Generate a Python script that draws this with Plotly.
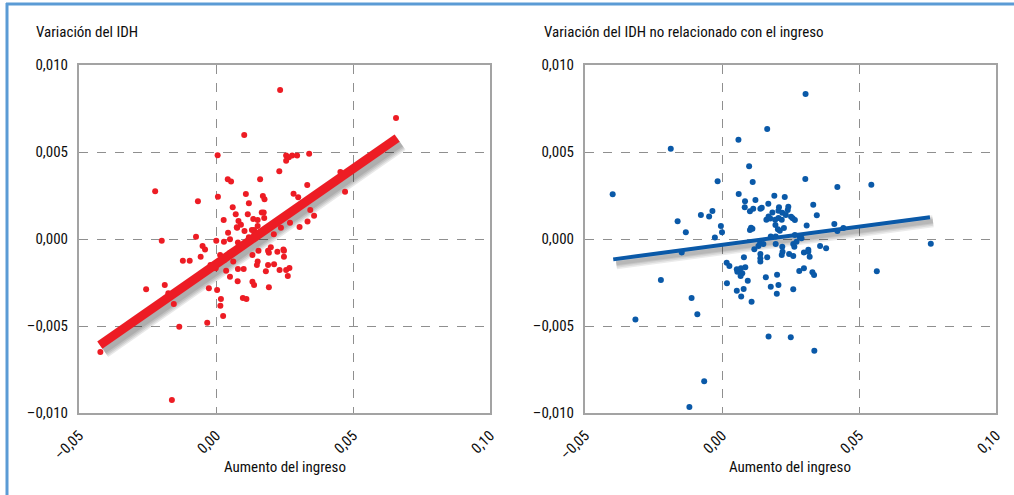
import plotly.graph_objects as go

# ---------------- data ----------------
left_income = [0.0234, 0.0657, 0.0103, 0.0006, 0.0231, 0.0256, 0.0266, 0.0278, 0.0296, 0.034, 0.0256,
               0.0454, 0.0471, -0.0222, -0.0066, 0.0043, 0.0055, 0.0161, 0.0007, 0.0109,
               0.0171, 0.0177, 0.012, 0.0333, 0.0283, 0.0061, 0.0072, 0.0116, 0.0167, 0.0174,
               0.0344, 0.0358, 0.0028, 0.0082, 0.0136, 0.0152, 0.0176, 0.027, 0.0334, 0.0305, 0.0077,
               0.0044, 0.0104, 0.0139, 0.0237, 0.0211, -0.0073, -0.0198, 0.0001, 0.0029, 0.0051,
               -0.0049, 0.0246, -0.004, -0.0056, -0.0121, -0.0096, 0.0015, 0.0051, 0.0063, -0.0001,
               0.0037, 0.0051, 0.008, 0.0101, 0.0079, 0.0133, 0.0155, 0.0152, 0.0149, 0.019, 0.02,
               0.0193, 0.0224, 0.0248, 0.0248, 0.019, 0.0212, 0.0182, 0.0232, 0.0256, 0.0268, 0.0262,
               0.0133, 0.0139, 0.0193, -0.0026, 0.0004, -0.0187, -0.0255, -0.0174, -0.0154,
               0.0018, 0.0016, 0.0098, 0.0111, 0.0026, -0.0032, -0.0134, -0.0422, -0.0161,
               0.0091, 0.0076, 0.0131, 0.0152, 0.008, 0.012, 0.014, 0.016, 0.018, 0.0105, 0.003,
               -0.002, 0.0205, 0.0310, 0.0300]
left_hdi = [0.00856, 0.00695, 0.00598, 0.00481, 0.0039, 0.0048, 0.0047, 0.0048, 0.0048, 0.0049, 0.0045,
            0.00385, 0.00272, 0.00274, 0.00217, 0.00343, 0.0033, 0.00343, 0.00243, 0.00259,
            0.00247, 0.00228, 0.00205, 0.0031, 0.0026, 0.00182, 0.00142, 0.00142, 0.00153, 0.00153,
            0.00167, 0.00134, 0.00109, 0.00103, 0.00115, 0.00109, 0.0012, 0.00094, 0.001, 0.00069, 0.00065,
            0.00036, 0.00046, 0.00052, 0.00065, 0.00027, 0.00013, -0.0001, -0.0001, -0.00016, -0.00002,
            -0.0004, -0.0006, -0.0006, -0.00102, -0.00125, -0.00125, -0.00092, -0.00079, -0.0013, -0.00168,
            -0.00182, -0.00217, -0.00172, -0.00172, -0.00243, -0.00092, -0.00067, -0.0013, -0.0015, -0.00067, -0.00048,
            -0.00079, -0.00073, -0.00067, -0.00102, -0.0015, -0.00145, -0.00186, -0.00178, -0.00178, -0.00167, -0.00213,
            -0.00245, -0.00264, -0.00278, -0.00283, -0.00293, -0.00264, -0.00289, -0.00312, -0.00374,
            -0.00345, -0.00383, -0.00339, -0.00345, -0.00443, -0.00481, -0.00504, -0.0065, -0.00925,
            0.00082, 0.00067, 0.00052, 0.00075, -0.0002, 0.0001, 0.0003, 0.0004, 0.0006, -0.0003, -0.0012,
            -0.0015, 0.0008, 0.0020, 0.0024]

right_income = [0.0305, 0.0165, 0.006, -0.0187, 0.0099, 0.0112, -0.0016, 0.0304, 0.0421, 0.0545, -0.0399, 0.0061,
                0.0191, 0.0229, 0.0084, 0.0122, 0.0169, 0.0333, 0.0083, 0.0102, 0.0114, 0.014, 0.0145,
                0.0208, 0.0242, 0.024, 0.0184, 0.0206, 0.022, 0.0233, 0.0252, 0.0346, -0.0077, -0.0047,
                -0.0035, -0.0162, -0.0132, -0.0026, -0.0004, 0.0, 0.0162, 0.017, 0.0176, 0.0194, 0.0206,
                0.0218, 0.0258, 0.0266, 0.0195, 0.0204, 0.0211, 0.0226, 0.0106, 0.0111, 0.0102, 0.0309,
                0.041, 0.0421, 0.0443, 0.0266, 0.0284, 0.029, 0.0178, 0.0196, 0.0762, 0.0358, 0.038, 0.0315,
                -0.0147, 0.0118, 0.0133, 0.0139, 0.0151, 0.0196, 0.022, 0.0221, 0.0218, 0.0245, 0.026,
                0.026, 0.0272, 0.0264, 0.008, 0.014, 0.014, 0.014, 0.0165, 0.0299, 0.0315, 0.032,
                0.0017, 0.0027, 0.0054, 0.0056, 0.0069, 0.0074, 0.0068, 0.0085, 0.0094, 0.0018, 0.016,
                0.0201, 0.0206, 0.0178, 0.0282, 0.0299, 0.033, 0.0336, 0.026, 0.0054, 0.0079, 0.007,
                0.0108, 0.02, 0.0565, -0.0223, -0.0111, -0.009, -0.0316, 0.017, 0.0251, 0.0337,
                -0.0065, -0.0119]
right_hdi = [0.00833, 0.00632, 0.00571, 0.00519, 0.00418, 0.00328, 0.00332, 0.00345, 0.00299, 0.00312, 0.00257, 0.00259,
             0.00249, 0.00241, 0.00217, 0.00224, 0.00203, 0.00197, 0.00182, 0.00159, 0.00174, 0.00174, 0.0018,
             0.00182, 0.00186, 0.00167, 0.00153, 0.00163, 0.00151, 0.00138, 0.00128, 0.00136, 0.00138, 0.0013,
             0.00161, 0.00102, 0.00039, 0.00008, 0.00075, 0.00039, 0.0011, 0.0013, 0.00118, 0.0011, 0.0012,
             0.0011, 0.00119, 0.00109, 0.0008, 0.00056, 0.00048, 0.00063, 0.00065, 0.00059, 0.00052, 0.00077,
             0.00086, 0.00046, 0.00063, 0.00023, 0.0001, 0.00004, 0.00014, 0.00014, -0.00027, -0.0004, -0.00053, -0.00062,
             -0.00077, -0.00059, -0.0004, -0.00025, -0.00029, -0.00029, -0.00044, -0.00073, -0.00092, -0.00086, -0.00098,
             -0.00029, -0.00016, -0.00044, -0.00105, -0.00086, -0.00111, -0.0013, -0.00105, -0.00077, -0.00073, -0.00102,
             -0.00136, -0.00155, -0.00174, -0.00188, -0.00168, -0.00197, -0.00213, -0.00163, -0.0024, -0.00255, -0.0022,
             -0.00205, -0.00264, -0.00274, -0.00184, -0.00168, -0.00191, -0.00207, -0.00289, -0.00297, -0.00287, -0.0033,
             -0.0036, -0.00314, -0.00186, -0.00236, -0.00339, -0.00433, -0.00462, -0.0056, -0.00565, -0.00642,
             -0.00818, -0.00966]

left_trend_x = [-0.0424, 0.0661]
left_trend_y = [-0.0061, 0.0058]
right_trend_x = [-0.0397, 0.0759]
right_trend_y = [-0.00117, 0.00125]

x_tickvals = [-0.05, 0.0, 0.05, 0.10]
x_ticktext = ["–0,05", "0,00", "0,05", "0,10"]
y_tickvals = [-0.010, -0.005, 0.0, 0.005, 0.010]
y_ticktext = ["–0,010", "–0,005", "0,000", "0,005", "0,010"]

left_title = "Variación del IDH"
right_title = "Variación del IDH no relacionado con el ingreso"
x_title = "Aumento del ingreso"

# ---------------- style ----------------
W, H = 1014, 495
RED = "#ED1C24"
BLUE = "#0A59A8"
FONT = "Liberation Sans Narrow, Roboto Condensed, Arial Narrow, sans-serif"
TXT = "#0d0d0d"
XR = [-0.05, 0.10]
YR = [-0.010, 0.010]

def px_x(p):
    return p / W

def px_y(p):
    return 1 - p / H

dom_left = [px_x(79), px_x(490)]
dom_right = [px_x(585), px_x(996)]
dom_y = [px_y(413), px_y(65)]

# shadow shift: 3px right, 4px down
sx = 3 * (XR[1] - XR[0]) / 411
sy = 4 * (YR[1] - YR[0]) / 348
XR_sh = [XR[0] - sx, XR[1] - sx]
YR_sh = [YR[0] + sy, YR[1] + sy]

fig = go.Figure()

# base subplots (frame + grid) need a trace to exist: invisible copies of the trend lines
fig.add_trace(go.Scatter(x=left_trend_x, y=left_trend_y, mode="lines", opacity=0,
                         line=dict(width=0), xaxis="x", yaxis="y", hoverinfo="skip"))
fig.add_trace(go.Scatter(x=right_trend_x, y=right_trend_y, mode="lines", opacity=0,
                         line=dict(width=0), xaxis="x2", yaxis="y2", hoverinfo="skip"))

# shadows (overlay, shifted)
for w in (19, 16, 13, 10):
    fig.add_trace(go.Scatter(x=left_trend_x, y=left_trend_y, mode="lines",
                             line=dict(color="rgba(0,0,0,0.09)", width=w),
                             xaxis="x3", yaxis="y3", hoverinfo="skip"))
for w in (12, 9, 6, 4):
    fig.add_trace(go.Scatter(x=right_trend_x, y=right_trend_y, mode="lines",
                             line=dict(color="rgba(0,0,0,0.08)", width=w),
                             xaxis="x4", yaxis="y4", hoverinfo="skip"))

# points
fig.add_trace(go.Scatter(x=left_income, y=left_hdi, mode="markers",
                         marker=dict(color=RED, size=6, line=dict(width=0)),
                         xaxis="x5", yaxis="y5", hoverinfo="skip"))
fig.add_trace(go.Scatter(x=right_income, y=right_hdi, mode="markers",
                         marker=dict(color=BLUE, size=6, line=dict(width=0)),
                         xaxis="x6", yaxis="y6", hoverinfo="skip"))

# trend lines
fig.add_trace(go.Scatter(x=left_trend_x, y=left_trend_y, mode="lines",
                         line=dict(color=RED, width=9),
                         xaxis="x7", yaxis="y7", hoverinfo="skip"))
fig.add_trace(go.Scatter(x=right_trend_x, y=right_trend_y, mode="lines",
                         line=dict(color=BLUE, width=4),
                         xaxis="x8", yaxis="y8", hoverinfo="skip"))

axis_common = dict(showline=True, mirror=True, linecolor="#a3a3a3", linewidth=2,
                   showgrid=True, gridcolor="#8f8f8f", griddash="dash", gridwidth=1,
                   zeroline=False, ticks="", fixedrange=True, automargin=False,
                   tickfont=dict(family=FONT, size=15, color=TXT))

xcommon = dict(axis_common, range=XR, tickvals=x_tickvals, ticktext=x_ticktext,
               tickangle=-45, ticklabelstandoff=6)
ycommon = dict(axis_common, range=YR, tickvals=y_tickvals, ticktext=y_ticktext,
               ticklabelstandoff=6)

hidden = dict(visible=False, fixedrange=True, showgrid=False, zeroline=False, automargin=False)

fig.update_layout(
    template="none",
    width=W, height=H,
    margin=dict(l=0, r=0, t=0, b=0, pad=0),
    paper_bgcolor="white", plot_bgcolor="white",
    showlegend=False,
    xaxis=dict(xcommon, domain=dom_left, anchor="y"),
    yaxis=dict(ycommon, domain=dom_y, anchor="x"),
    xaxis2=dict(xcommon, domain=dom_right, anchor="y2"),
    yaxis2=dict(ycommon, domain=dom_y, anchor="x2"),
    xaxis3=dict(hidden, range=XR_sh, overlaying="x", anchor="y3"),
    yaxis3=dict(hidden, range=YR_sh, overlaying="y", anchor="x3"),
    xaxis4=dict(hidden, range=XR_sh, overlaying="x2", anchor="y4"),
    yaxis4=dict(hidden, range=YR_sh, overlaying="y2", anchor="x4"),
    xaxis5=dict(hidden, range=XR, overlaying="x", anchor="y5"),
    yaxis5=dict(hidden, range=YR, overlaying="y", anchor="x5"),
    xaxis6=dict(hidden, range=XR, overlaying="x2", anchor="y6"),
    yaxis6=dict(hidden, range=YR, overlaying="y2", anchor="x6"),
    xaxis7=dict(hidden, range=XR, overlaying="x", anchor="y7"),
    yaxis7=dict(hidden, range=YR, overlaying="y", anchor="x7"),
    xaxis8=dict(hidden, range=XR, overlaying="x2", anchor="y8"),
    yaxis8=dict(hidden, range=YR, overlaying="y2", anchor="x8"),
    annotations=[
        dict(text=left_title, x=px_x(34), y=px_y(32), xref="paper", yref="paper",
             xanchor="left", yanchor="middle", showarrow=False,
             font=dict(family=FONT, size=15, color=TXT)),
        dict(text=right_title, x=px_x(542), y=px_y(32), xref="paper", yref="paper",
             xanchor="left", yanchor="middle", showarrow=False,
             font=dict(family=FONT, size=15, color=TXT)),
        dict(text=x_title, x=(dom_left[0] + dom_left[1]) / 2, y=px_y(467), xref="paper", yref="paper",
             xanchor="center", yanchor="middle", showarrow=False,
             font=dict(family=FONT, size=15, color=TXT)),
        dict(text=x_title, x=(dom_right[0] + dom_right[1]) / 2, y=px_y(467), xref="paper", yref="paper",
             xanchor="center", yanchor="middle", showarrow=False,
             font=dict(family=FONT, size=15, color=TXT)),
    ],
    shapes=[
        dict(type="line", xref="paper", yref="paper", x0=px_x(6), x1=1, y0=px_y(4), y1=px_y(4),
             line=dict(color="#5B9BD5", width=3)),
        dict(type="line", xref="paper", yref="paper", x0=px_x(7), x1=px_x(7), y0=px_y(3), y1=0,
             line=dict(color="#5B9BD5", width=3)),
    ],
)

fig.write_html("out.html", config={"displayModeBar": False},
               post_script="document.body.style.margin='0';document.body.style.overflow='hidden';")
